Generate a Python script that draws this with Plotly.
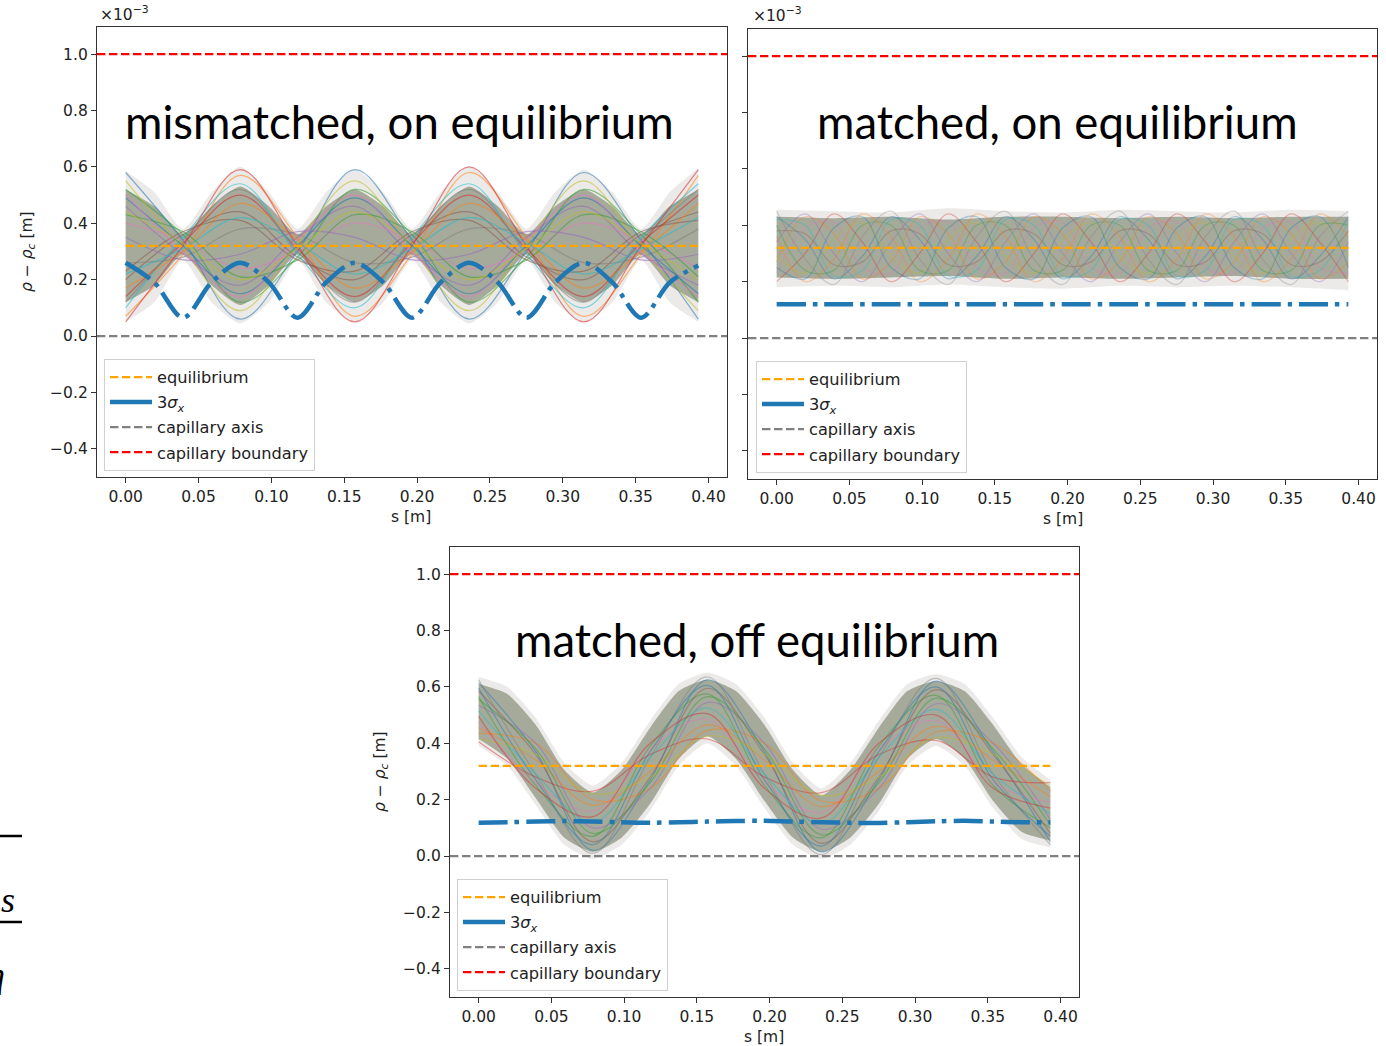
import plotly.graph_objects as go

W, H = 1386, 1046

# ---------------- data (units of 1e-3 m for rho - rho_c) ----------------
S11 = [0.0, 0.0393, 0.0786, 0.1179, 0.1572, 0.1965, 0.2358, 0.2751, 0.3144, 0.3537, 0.393]
S21 = [0.0, 0.01965, 0.0393, 0.05895, 0.0786, 0.09825, 0.1179, 0.13755, 0.1572, 0.17685,
       0.1965, 0.21615, 0.2358, 0.25545, 0.2751, 0.29475, 0.3144, 0.33405, 0.3537, 0.37335, 0.393]
S_ENDS = [0.0, 0.393]

EQUILIBRIUM = 0.32
CAP_AXIS = 0.0
CAP_BOUNDARY = 1.0

X_TICKS = [0.0, 0.05, 0.10, 0.15, 0.20, 0.25, 0.30, 0.35, 0.40]
X_TICK_TEXT = ["0.00", "0.05", "0.10", "0.15", "0.20", "0.25", "0.30", "0.35", "0.40"]
Y_TICKS = [-0.4, -0.2, 0.0, 0.2, 0.4, 0.6, 0.8, 1.0]
Y_TICK_TEXT = ["\u22120.4", "\u22120.2", "0.0", "0.2", "0.4", "0.6", "0.8", "1.0"]
X_RANGE = [-0.0197, 0.4127]
Y_RANGE = [-0.5, 1.096]

TITLES = ["mismatched, on equilibrium", "matched, on equilibrium", "matched, off equilibrium"]
LEGEND_NAMES = ["equilibrium", "3<i>σ</i><sub><i>x</i></sub>", "capillary axis", "capillary boundary"]

# ---- panel 1: mismatched, on equilibrium ----
P1_OUTER_UP = [0.585, 0.51, 0.38, 0.51, 0.60, 0.51, 0.38, 0.51, 0.59, 0.51, 0.38,
               0.51, 0.60, 0.51, 0.38, 0.51, 0.59, 0.51, 0.38, 0.51, 0.595]
P1_OUTER_LO = [0.05, 0.12, 0.27, 0.12, 0.045, 0.12, 0.27, 0.12, 0.05, 0.12, 0.27,
               0.12, 0.045, 0.12, 0.27, 0.12, 0.05, 0.12, 0.27, 0.12, 0.05]
P1_INNER_UP = [0.52, 0.46, 0.36, 0.46, 0.53, 0.46, 0.36, 0.46, 0.52, 0.46, 0.36,
               0.46, 0.53, 0.46, 0.36, 0.46, 0.52, 0.46, 0.36, 0.46, 0.52]
P1_INNER_LO = [0.12, 0.18, 0.29, 0.18, 0.11, 0.18, 0.29, 0.18, 0.12, 0.18, 0.29,
               0.18, 0.11, 0.18, 0.29, 0.18, 0.12, 0.18, 0.29, 0.18, 0.12]
P1_SIGMA = [0.26, 0.19, 0.065, 0.19, 0.26, 0.19, 0.065, 0.19, 0.26, 0.19, 0.065,
            0.19, 0.26, 0.19, 0.065, 0.19, 0.26, 0.19, 0.065, 0.19, 0.25]
P1_LINES = [
    [0.58, 0.34, 0.06, 0.30, 0.59, 0.34, 0.06, 0.30, 0.58, 0.34, 0.06],
    [0.07, 0.29, 0.57, 0.35, 0.07, 0.29, 0.58, 0.35, 0.07, 0.29, 0.57],
    [0.52, 0.36, 0.12, 0.28, 0.52, 0.36, 0.12, 0.28, 0.52, 0.36, 0.12],
    [0.14, 0.33, 0.50, 0.31, 0.14, 0.33, 0.50, 0.31, 0.14, 0.33, 0.50],
    [0.46, 0.29, 0.18, 0.35, 0.46, 0.29, 0.18, 0.35, 0.46, 0.29, 0.18],
    [0.20, 0.36, 0.44, 0.28, 0.20, 0.36, 0.44, 0.28, 0.20, 0.36, 0.44],
    [0.40, 0.34, 0.24, 0.30, 0.40, 0.34, 0.24, 0.30, 0.40, 0.34, 0.24],
    [0.26, 0.28, 0.38, 0.36, 0.26, 0.28, 0.38, 0.36, 0.26, 0.28, 0.38],
    [0.55, 0.31, 0.09, 0.33, 0.55, 0.31, 0.09, 0.33, 0.55, 0.31, 0.09],
    [0.10, 0.35, 0.54, 0.29, 0.10, 0.35, 0.54, 0.29, 0.10, 0.35, 0.54],
    [0.49, 0.32, 0.15, 0.32, 0.49, 0.32, 0.15, 0.32, 0.49, 0.32, 0.15],
    [0.17, 0.30, 0.47, 0.34, 0.17, 0.30, 0.47, 0.34, 0.17, 0.30, 0.47],
    [0.43, 0.37, 0.21, 0.27, 0.43, 0.37, 0.21, 0.27, 0.43, 0.37, 0.21],
    [0.05, 0.32, 0.59, 0.32, 0.05, 0.32, 0.60, 0.32, 0.05, 0.32, 0.59],
    [0.35, 0.27, 0.29, 0.37, 0.35, 0.27, 0.29, 0.37, 0.35, 0.27, 0.29],
    [0.23, 0.37, 0.41, 0.27, 0.23, 0.37, 0.41, 0.27, 0.23, 0.37, 0.41],
    [0.50, 0.30, 0.14, 0.34, 0.50, 0.30, 0.14, 0.34, 0.50, 0.30, 0.14],
    [0.12, 0.34, 0.52, 0.30, 0.12, 0.34, 0.52, 0.30, 0.12, 0.34, 0.52],
    [0.44, 0.33, 0.20, 0.31, 0.44, 0.33, 0.20, 0.31, 0.44, 0.33, 0.20],
    [0.22, 0.31, 0.42, 0.33, 0.22, 0.31, 0.42, 0.33, 0.22, 0.31, 0.42],
]

# ---- panel 2: matched, on equilibrium ----
P2_OUTER_UP = [0.455, 0.45, 0.445, 0.46, 0.45, 0.445, 0.455, 0.45, 0.445, 0.455, 0.45]
P2_OUTER_LO = [0.18, 0.185, 0.18, 0.19, 0.18, 0.175, 0.185, 0.18, 0.185, 0.18, 0.17]
P2_INNER_UP = [0.43, 0.425, 0.43, 0.42, 0.43, 0.43, 0.425, 0.43, 0.425, 0.43, 0.43]
P2_INNER_LO = [0.215, 0.21, 0.215, 0.22, 0.21, 0.215, 0.21, 0.215, 0.22, 0.21, 0.21]
P2_SIGMA = [0.12, 0.12, 0.12, 0.12, 0.12, 0.12, 0.12, 0.12, 0.12, 0.12, 0.12]
P2_LINES = [
    [0.43, 0.35, 0.21, 0.29, 0.43, 0.35, 0.21, 0.29, 0.43, 0.35, 0.21, 0.29, 0.43, 0.35, 0.21, 0.29, 0.43, 0.35, 0.21, 0.29, 0.43],
    [0.27, 0.43, 0.37, 0.21, 0.27, 0.43, 0.37, 0.21, 0.27, 0.43, 0.37, 0.21, 0.27, 0.43, 0.37, 0.21, 0.27, 0.43, 0.37, 0.21, 0.27],
    [0.40, 0.24, 0.24, 0.40, 0.40, 0.24, 0.24, 0.40, 0.40, 0.24, 0.24, 0.40, 0.40, 0.24, 0.24, 0.40, 0.40, 0.24, 0.24, 0.40, 0.40],
    [0.20, 0.30, 0.44, 0.34, 0.20, 0.30, 0.44, 0.34, 0.20, 0.30, 0.44, 0.34, 0.20, 0.30, 0.44, 0.34, 0.20, 0.30, 0.44, 0.34, 0.20],
    [0.34, 0.44, 0.30, 0.20, 0.34, 0.44, 0.30, 0.20, 0.34, 0.44, 0.30, 0.20, 0.34, 0.44, 0.30, 0.20, 0.34, 0.44, 0.30, 0.20, 0.34],
    [0.38, 0.37, 0.26, 0.27, 0.38, 0.37, 0.26, 0.27, 0.38, 0.37, 0.26, 0.27, 0.38, 0.37, 0.26, 0.27, 0.38, 0.37, 0.26, 0.27, 0.38],
    [0.23, 0.39, 0.41, 0.25, 0.23, 0.39, 0.41, 0.25, 0.23, 0.39, 0.41, 0.25, 0.23, 0.39, 0.41, 0.25, 0.23, 0.39, 0.41, 0.25, 0.23],
    [0.45, 0.28, 0.19, 0.36, 0.45, 0.28, 0.19, 0.36, 0.45, 0.28, 0.19, 0.36, 0.45, 0.28, 0.19, 0.36, 0.45, 0.28, 0.19, 0.36, 0.45],
    [0.29, 0.23, 0.35, 0.41, 0.29, 0.23, 0.35, 0.41, 0.29, 0.23, 0.35, 0.41, 0.29, 0.23, 0.35, 0.41, 0.29, 0.23, 0.35, 0.41, 0.29],
    [0.42, 0.40, 0.22, 0.24, 0.42, 0.40, 0.22, 0.24, 0.42, 0.40, 0.22, 0.24, 0.42, 0.40, 0.22, 0.24, 0.42, 0.40, 0.22, 0.24, 0.42],
    [0.25, 0.21, 0.39, 0.43, 0.25, 0.21, 0.39, 0.43, 0.25, 0.21, 0.39, 0.43, 0.25, 0.21, 0.39, 0.43, 0.25, 0.21, 0.39, 0.43, 0.25],
    [0.36, 0.20, 0.28, 0.44, 0.36, 0.20, 0.28, 0.44, 0.36, 0.20, 0.28, 0.44, 0.36, 0.20, 0.28, 0.44, 0.36, 0.20, 0.28, 0.44, 0.36],
]

# ---- panel 3: matched, off equilibrium ----
P3_OUTER_UP = [0.635, 0.60, 0.49, 0.33, 0.25, 0.33, 0.48, 0.61, 0.65, 0.61, 0.49,
               0.33, 0.24, 0.33, 0.48, 0.61, 0.645, 0.61, 0.49, 0.35, 0.27]
P3_OUTER_LO = [0.39, 0.32, 0.18, 0.04, -0.01, 0.04, 0.16, 0.32, 0.40, 0.32, 0.17,
               0.04, -0.01, 0.04, 0.16, 0.32, 0.39, 0.32, 0.17, 0.06, 0.03]
P3_INNER_UP = [0.61, 0.575, 0.465, 0.305, 0.225, 0.305, 0.455, 0.585, 0.625, 0.585, 0.465,
               0.305, 0.215, 0.305, 0.455, 0.585, 0.62, 0.585, 0.465, 0.325, 0.245]
P3_INNER_LO = [0.415, 0.345, 0.205, 0.065, 0.015, 0.065, 0.185, 0.345, 0.425, 0.345, 0.195,
               0.065, 0.015, 0.065, 0.185, 0.345, 0.415, 0.345, 0.195, 0.085, 0.055]
P3_SIGMA = [0.118, 0.12, 0.122, 0.124, 0.122, 0.12, 0.118, 0.12, 0.122, 0.124, 0.125,
            0.122, 0.12, 0.118, 0.117, 0.12, 0.123, 0.125, 0.122, 0.12, 0.12]
P3_LINES = [
    [0.615, 0.37, 0.02, 0.27, 0.625, 0.37, 0.015, 0.27, 0.62, 0.37, 0.05],
    [0.435, 0.40, 0.20, 0.24, 0.445, 0.40, 0.195, 0.24, 0.44, 0.40, 0.23],
    [0.565, 0.25, 0.07, 0.39, 0.575, 0.25, 0.065, 0.39, 0.57, 0.25, 0.10],
    [0.405, 0.28, 0.23, 0.36, 0.415, 0.28, 0.225, 0.36, 0.41, 0.28, 0.26],
    [0.535, 0.40, 0.10, 0.24, 0.545, 0.40, 0.095, 0.24, 0.54, 0.40, 0.13],
    [0.585, 0.36, 0.05, 0.28, 0.595, 0.36, 0.045, 0.28, 0.59, 0.36, 0.08],
    [0.475, 0.26, 0.16, 0.38, 0.485, 0.26, 0.155, 0.38, 0.48, 0.26, 0.19],
    [0.625, 0.29, 0.01, 0.35, 0.635, 0.29, 0.005, 0.35, 0.63, 0.29, 0.04],
    [0.415, 0.36, 0.22, 0.28, 0.425, 0.36, 0.215, 0.28, 0.42, 0.36, 0.25],
    [0.515, 0.29, 0.12, 0.35, 0.525, 0.29, 0.115, 0.35, 0.52, 0.29, 0.15],
    [0.595, 0.27, 0.04, 0.37, 0.605, 0.27, 0.035, 0.37, 0.60, 0.27, 0.07],
    [0.455, 0.34, 0.18, 0.30, 0.465, 0.34, 0.175, 0.30, 0.46, 0.34, 0.21],
    [0.555, 0.38, 0.08, 0.26, 0.565, 0.38, 0.075, 0.26, 0.56, 0.38, 0.11],
    [0.495, 0.24, 0.14, 0.40, 0.505, 0.24, 0.135, 0.40, 0.50, 0.24, 0.17],
]

# ---------------- styling ----------------
TAB10 = [(31, 119, 180), (255, 127, 14), (44, 160, 44), (214, 39, 40), (148, 103, 189),
         (140, 86, 75), (227, 119, 194), (127, 127, 127), (188, 189, 34), (23, 190, 207)]
ORANGE = "#FFA500"
BLUE = "#1f77b4"
GRAY = "#808080"
RED = "#FF0000"
FRAME = "#333333"
TICKFONT = dict(family="DejaVu Sans", size=15.5, color="#222222")
LEGFONT = dict(family="DejaVu Sans", size=16.2, color="#222222")
TITLEFONT = dict(family="Lato", size=45.5, color="black")
DASHED = "8.4px,3.6px"
DASHDOT = "29px,7px,4.5px,7px"


def px(x):
    return x / W


def py(y):
    return 1 - y / H


PANELS = [
    dict(xa="x", ya="y", xd=[px(97), px(727)], yd=[py(477), py(27)], legend="legend",
         outer=(P1_OUTER_UP, P1_OUTER_LO), inner=(P1_INNER_UP, P1_INNER_LO), fill_s=S21,
         lines=P1_LINES, line_s=S11, line_alpha=0.55, sigma=P1_SIGMA, sigma_s=S21, ylabels=True,
         title_xy=(400, 122), offset_xy=(98, 14), ytitle_xy=(28, 252), xtitle_xy=(411, 517),
         legend_xy=(104, 359)),
    dict(xa="x2", ya="y2", xd=[px(748), px(1377)], yd=[py(479), py(29)], legend="legend2",
         outer=(P2_OUTER_UP, P2_OUTER_LO), inner=(P2_INNER_UP, P2_INNER_LO), fill_s=S11,
         lines=P2_LINES, line_s=S21, line_alpha=0.33, sigma=P2_SIGMA, sigma_s=S11, ylabels=False,
         title_xy=(1057, 122), offset_xy=(751, 15), ytitle_xy=None, xtitle_xy=(1063, 519),
         legend_xy=(756, 361)),
    dict(xa="x3", ya="y3", xd=[px(450), px(1079)], yd=[py(997), py(547)], legend="legend3",
         outer=(P3_OUTER_UP, P3_OUTER_LO), inner=(P3_INNER_UP, P3_INNER_LO), fill_s=S21,
         lines=P3_LINES, line_s=S11, line_alpha=0.45, sigma=P3_SIGMA, sigma_s=S21, ylabels=True,
         title_xy=(757, 639), offset_xy=None, ytitle_xy=(381, 772), xtitle_xy=(764, 1037),
         legend_xy=(457, 879)),
]

fig = go.Figure()
annotations = []
shapes = []
layout_extra = {}

for k, p in enumerate(PANELS):
    xa, ya = p["xa"], p["ya"]
    common = dict(xaxis=xa, yaxis=ya, hoverinfo="skip")
    # pale outer envelope of all trajectories
    fig.add_trace(go.Scatter(x=p["fill_s"], y=p["outer"][0], mode="lines",
                             line=dict(width=0, shape="spline", smoothing=0.6),
                             showlegend=False, **common))
    fig.add_trace(go.Scatter(x=p["fill_s"], y=p["outer"][1], mode="lines", fill="tonexty",
                             fillcolor="rgba(170,160,150,0.22)",
                             line=dict(width=0, shape="spline", smoothing=0.6),
                             showlegend=False, **common))
    # dense core
    fig.add_trace(go.Scatter(x=p["fill_s"], y=p["inner"][0], mode="lines",
                             line=dict(width=0, shape="spline", smoothing=0.6),
                             showlegend=False, **common))
    fig.add_trace(go.Scatter(x=p["fill_s"], y=p["inner"][1], mode="lines", fill="tonexty",
                             fillcolor="rgba(122,130,108,0.62)",
                             line=dict(width=0, shape="spline", smoothing=0.6),
                             showlegend=False, **common))
    # individual trajectories
    for i, ys in enumerate(p["lines"]):
        r, g, b = TAB10[i % 10]
        fig.add_trace(go.Scatter(x=p["line_s"], y=ys, mode="lines",
                                 line=dict(width=1.2, color=f"rgba({r},{g},{b},{p['line_alpha']})",
                                           shape="spline", smoothing=1.0),
                                 showlegend=False, **common))
    lg = p["legend"]
    fig.add_trace(go.Scatter(x=S_ENDS, y=[EQUILIBRIUM, EQUILIBRIUM], mode="lines",
                             name=LEGEND_NAMES[0], legend=lg, legendgroup=f"eq{k}",
                             line=dict(color=ORANGE, width=2.26, dash=DASHED), **common))
    fig.add_trace(go.Scatter(x=p["sigma_s"], y=p["sigma"], mode="lines",
                             name=LEGEND_NAMES[1], showlegend=False,
                             line=dict(color=BLUE, width=4.5, dash=DASHDOT, shape="spline",
                                       smoothing=0.9), **common))
    # legend key for 3 sigma (solid handle, as in the reference legend)
    fig.add_trace(go.Scatter(x=[None], y=[None], mode="lines",
                             name=LEGEND_NAMES[1], legend=lg, legendgroup=f"sg{k}",
                             line=dict(color=BLUE, width=4.5), **common))
    fig.add_trace(go.Scatter(x=X_RANGE, y=[CAP_AXIS, CAP_AXIS], mode="lines",
                             name=LEGEND_NAMES[2], legend=lg, legendgroup=f"ax{k}",
                             line=dict(color=GRAY, width=2.26, dash=DASHED), **common))
    fig.add_trace(go.Scatter(x=X_RANGE, y=[CAP_BOUNDARY, CAP_BOUNDARY], mode="lines",
                             name=LEGEND_NAMES[3], legend=lg, legendgroup=f"bd{k}",
                             line=dict(color=RED, width=2.26, dash=DASHED), **common))

    xkey = "xaxis" if xa == "x" else "xaxis" + xa[1:]
    ykey = "yaxis" if ya == "y" else "yaxis" + ya[1:]
    layout_extra[xkey] = dict(domain=p["xd"], anchor=ya, range=X_RANGE, tickvals=X_TICKS,
                              ticktext=X_TICK_TEXT, ticks="outside", ticklen=5, tickwidth=1.2,
                              tickcolor=FRAME, showline=True, mirror=True, linecolor=FRAME,
                              linewidth=1.3, showgrid=False, zeroline=False, tickfont=TICKFONT)
    layout_extra[ykey] = dict(domain=p["yd"], anchor=xa, range=Y_RANGE, tickvals=Y_TICKS,
                              ticktext=Y_TICK_TEXT, ticks="outside", ticklen=5, tickwidth=1.2,
                              tickcolor=FRAME, showline=True, mirror=True, linecolor=FRAME,
                              linewidth=1.3, showgrid=False, zeroline=False, tickfont=TICKFONT,
                              showticklabels=p["ylabels"])
    lx, ly = p["legend_xy"]
    layout_extra[lg] = dict(x=px(lx), y=py(ly), xanchor="left", yanchor="top",
                            bgcolor="rgba(255,255,255,0.8)", bordercolor="#d0d0d0",
                            borderwidth=1, font=LEGFONT,
                            itemwidth=42, tracegroupgap=1, traceorder="grouped")

    tx, ty = p["title_xy"]
    annotations.append(dict(text=TITLES[k], x=px(tx), y=py(ty), xref="paper", yref="paper",
                            xanchor="center", yanchor="middle", showarrow=False, font=TITLEFONT))
    if p["offset_xy"]:
        ox, oy = p["offset_xy"]
        annotations.append(dict(text="\u00d710<sup>\u22123</sup>", x=px(ox), y=py(oy),
                                xref="paper", yref="paper", xanchor="left", yanchor="middle",
                                showarrow=False, font=TICKFONT))
    if p["ytitle_xy"]:
        yx, yy = p["ytitle_xy"]
        annotations.append(dict(text="<i>ρ</i> \u2212 <i>ρ</i><sub><i>c</i></sub> [m]",
                                x=px(yx), y=py(yy), xref="paper", yref="paper",
                                xanchor="center", yanchor="middle", textangle=-90,
                                showarrow=False, font=TICKFONT))
    xx, xy = p["xtitle_xy"]
    annotations.append(dict(text="s [m]", x=px(xx), y=py(xy), xref="paper", yref="paper",
                            xanchor="center", yanchor="middle", showarrow=False, font=TICKFONT))

# stray slide fragments at the lower-left edge
shapes.append(dict(type="line", xref="paper", yref="paper", x0=0, x1=px(22), y0=py(836),
                   y1=py(836), line=dict(color="black", width=2.5)))
shapes.append(dict(type="line", xref="paper", yref="paper", x0=0, x1=px(22), y0=py(922),
                   y1=py(922), line=dict(color="black", width=2.5)))
annotations.append(dict(text="<i>s</i>", x=px(8), y=py(900), xref="paper", yref="paper",
                        xanchor="center", yanchor="middle", showarrow=False,
                        font=dict(family="Liberation Serif", size=36, color="black")))
annotations.append(dict(text="<i>η</i>", x=px(7), y=py(975), xref="paper", yref="paper",
                        xanchor="right", yanchor="middle", showarrow=False,
                        font=dict(family="Liberation Serif", size=36, color="black")))

fig.update_layout(width=W, height=H, margin=dict(l=0, r=0, t=0, b=0),
                  paper_bgcolor="white", plot_bgcolor="white",
                  annotations=annotations, shapes=shapes, **layout_extra)

fig.write_html("out.html")
